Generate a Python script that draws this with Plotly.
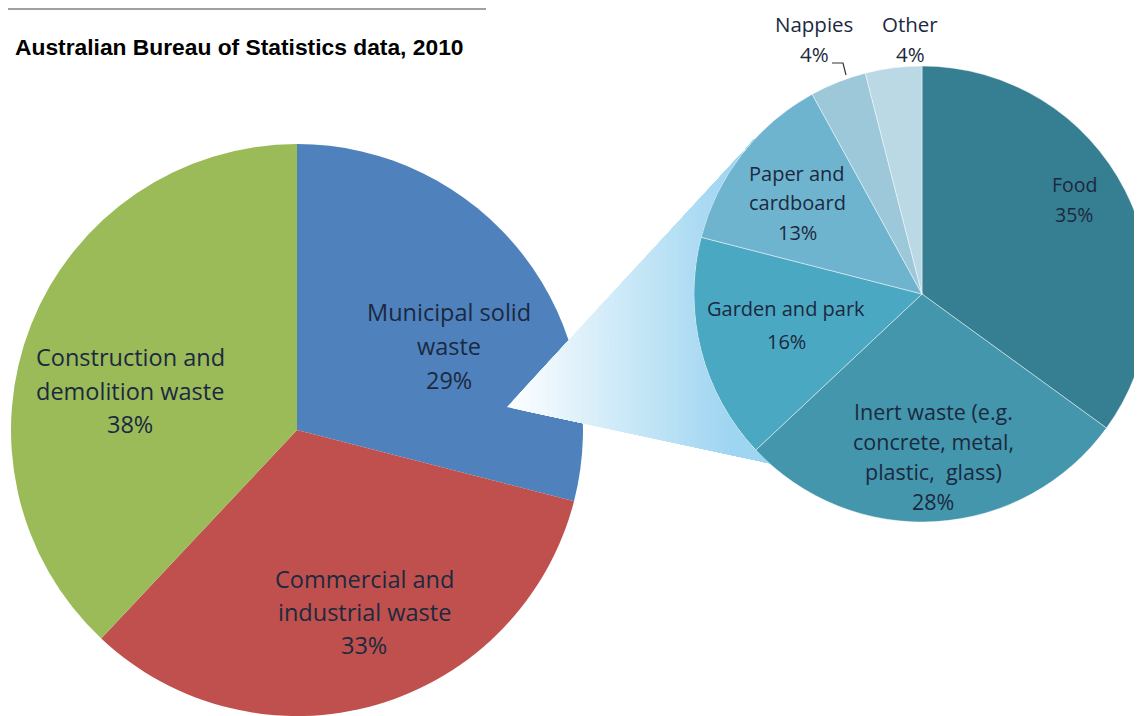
import math
import plotly.graph_objects as go

# ---------------- data ----------------
waste_streams = ["Municipal solid waste", "Commercial and industrial waste",
                 "Construction and demolition waste"]
waste_share = [29, 33, 38]

msw_categories = ["Food", "Inert waste (e.g. concrete, metal, plastic, glass)",
                  "Garden and park", "Paper and cardboard", "Nappies", "Other"]
msw_share = [35, 28, 16, 13, 4, 4]

title_text = "Australian Bureau of Statistics data, 2010"

# label line breaks (display text)
waste_label_lines = [["Municipal solid", "waste"],
                     ["Commercial and", "industrial waste"],
                     ["Construction and", "demolition waste"]]
msw_label_lines = [["Food"],
                   ["Inert waste (e.g.", "concrete, metal,", "plastic,  glass)"],
                   ["Garden and park"],
                   ["Paper and", "cardboard"],
                   ["Nappies"],
                   ["Other"]]

# ---------------- layout / style ----------------
W, H = 1142, 716
OFF = 8  # page body margin offset (screen px)
LEFT_C, LEFT_R = (297, 430), 286        # screen px
RIGHT_X0, RIGHT_CY = 694, 294           # screen px

left_colors = ["#4F81BD", "#C0504D", "#9BBB59"]
right_colors = ["#367E91", "#4396AC", "#4BA8C2", "#6FB4CE", "#9CC8D9", "#BAD9E5"]

# label anchor positions in screen pixels (centre x, first line y, line spacing, font size)
waste_label_pos = [(449, 312, 34, 23.5), (364, 579, 33, 23.5), (130, 357, 33.5, 23.5)]
msw_label_pos = [(1074, 185, 29, 19.5), (933, 411, 30, 21.5), (786, 309, 32, 20),
                 (797, 173, 29.5, 20), (814, 24, 30, 20.5), (910, 24, 30, 20.5)]

FONT = "Open Sans"
TXT = "#1b2940"


def P(x, y):
    return (x - OFF) / W, 1 - (y - OFF) / H


fig = go.Figure()

# left pie
lx0, ly1 = P(LEFT_C[0] - LEFT_R, LEFT_C[1] - LEFT_R)
lx1, ly0 = P(LEFT_C[0] + LEFT_R, LEFT_C[1] + LEFT_R)
fig.add_trace(go.Pie(
    labels=waste_streams, values=waste_share, sort=False, direction="clockwise",
    rotation=0, marker=dict(colors=left_colors, line=dict(width=0)),
    textinfo="none", hoverinfo="skip", showlegend=False,
    domain=dict(x=[max(lx0, 0), min(lx1, 1)], y=[max(ly0, 0), min(ly1, 1)]),
))

# right pie
RIGHT_R = (W + OFF - RIGHT_X0) / 2
RIGHT_C = (RIGHT_X0 + RIGHT_R, RIGHT_CY)
rx0, ry1 = P(RIGHT_X0, RIGHT_CY - RIGHT_R)
rx1, ry0 = P(RIGHT_X0 + 2 * RIGHT_R, RIGHT_CY + RIGHT_R)
fig.add_trace(go.Pie(
    labels=msw_categories, values=msw_share, sort=False, direction="clockwise",
    rotation=0,
    marker=dict(colors=right_colors, line=dict(width=1, color="rgba(255,255,255,0.45)")),
    textinfo="none", hoverinfo="skip", showlegend=False,
    domain=dict(x=[rx0, min(rx1, 1)], y=[ry0, ry1]),
))

# ---------------- connector wedge (gradient via stacked shapes) ----------------
tip = (507, 407)
cx, cy = RIGHT_C
dx, dy = cx - tip[0], cy - tip[1]
d = math.hypot(dx, dy)
base = math.atan2(dy, dx)
half = math.asin(RIGHT_R / d)
tlen = math.sqrt(d * d - RIGHT_R * RIGHT_R)
ang_top = base - half
T = (tip[0] + tlen * math.cos(ang_top), tip[1] + tlen * math.sin(ang_top))
bdir = math.atan2(60, 280)
ux, uy = math.cos(bdir), math.sin(bdir)
fx, fy = tip[0] - cx, tip[1] - cy
b = fx * ux + fy * uy
c = fx * fx + fy * fy - RIGHT_R ** 2
t1 = -b - math.sqrt(b * b - c)
B = (tip[0] + t1 * ux, tip[1] + t1 * uy)
aT = math.atan2(T[1] - cy, T[0] - cx) % (2 * math.pi)
aB = math.atan2(B[1] - cy, B[0] - cx) % (2 * math.pi)
arc = []
n = 40
for i in range(n + 1):
    a = aT + (aB - aT) * i / n
    arc.append((cx + (RIGHT_R + 0.5) * math.cos(a), cy + (RIGHT_R + 0.5) * math.sin(a)))
poly = [tip, T] + arc + [B]


def clip_left(pts, xc):
    out = []
    m = len(pts)
    for i in range(m):
        p, q = pts[i], pts[(i + 1) % m]
        pin, qin = p[0] >= xc, q[0] >= xc
        if pin:
            out.append(p)
        if pin != qin:
            t = (xc - p[0]) / (q[0] - p[0])
            out.append((xc, p[1] + t * (q[1] - p[1])))
    return out


c_start = (255, 255, 255)
c_end = (158, 213, 241)
gx0, gx1 = tip[0], 735
steps = 40
shapes = []
for i in range(steps):
    xc = gx0 + (gx1 - gx0) * i / steps - (1 if i == 0 else 0)
    f = (i + 1) / steps
    col = tuple(round(c_start[k] + (c_end[k] - c_start[k]) * f) for k in range(3))
    pts = clip_left(poly, xc)
    if len(pts) < 3:
        continue
    path = "M " + " L ".join(f"{P(x, y)[0]:.5f},{P(x, y)[1]:.5f}" for x, y in pts) + " Z"
    shapes.append(dict(type="path", xref="paper", yref="paper", path=path,
                       fillcolor=f"rgb{col}", line=dict(width=0), layer="above"))

# top-left frame remnant (bottom edge of a box above the chart)
lx_a, ly_a = P(OFF, OFF + 1)
lx_b, _ = P(486, OFF + 1)
shapes.append(dict(type="line", xref="paper", yref="paper",
                   x0=lx_a, x1=lx_b, y0=ly_a, y1=ly_a,
                   line=dict(color="#A0A0A0", width=2), layer="above"))

# nappies leader line
shapes.append(dict(type="path", xref="paper", yref="paper",
                   path="M {0:.5f},{1:.5f} L {2:.5f},{3:.5f} L {4:.5f},{5:.5f}".format(
                       *P(832, 63), *P(843, 63), *P(846, 75)),
                   line=dict(color="#333333", width=1.2), layer="above"))

# ---------------- annotations ----------------
anns = []


def add_lines(lines, pos, color):
    x, y0, sp, fs = pos
    for j, ln in enumerate(lines):
        xx, yy = P(x, y0 + j * sp)
        anns.append(dict(x=xx, y=yy, xref="paper", yref="paper", text=ln,
                         showarrow=False, xanchor="center", yanchor="middle",
                         font=dict(family=FONT, size=fs, color=color)))


for lines, val, pos in zip(waste_label_lines, waste_share, waste_label_pos):
    add_lines(lines + [f"{val}%"], pos, TXT)
for lines, val, pos in zip(msw_label_lines, msw_share, msw_label_pos):
    add_lines(lines + [f"{val}%"], pos, TXT)

tx, ty = P(466, 47)
anns.append(dict(x=tx, y=ty, xref="paper", yref="paper", text=f"<b>{title_text}</b>",
                 showarrow=False, xanchor="right", yanchor="middle",
                 font=dict(family="Liberation Sans, Arial", size=22.8, color="#000000")))

fig.update_layout(
    width=W, height=H, margin=dict(l=0, r=0, t=0, b=0),
    paper_bgcolor="white", plot_bgcolor="white",
    shapes=shapes, annotations=anns, showlegend=False,
)

fig.write_html("out.html")
